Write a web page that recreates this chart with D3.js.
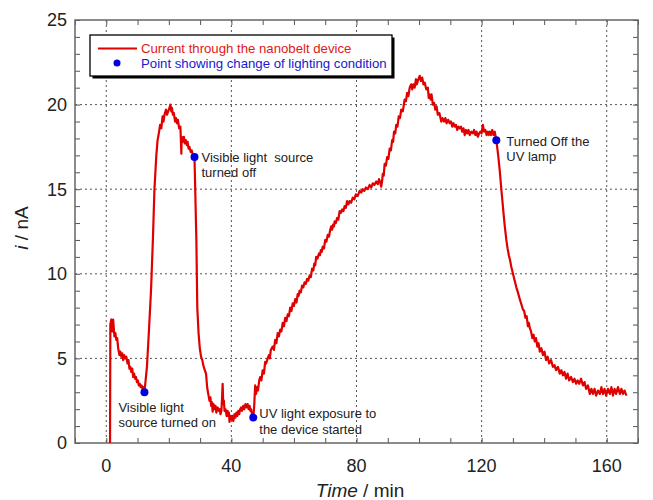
<!DOCTYPE html>
<html>
<head>
<meta charset="utf-8">
<script src="https://cdn.jsdelivr.net/npm/d3@7"></script>
<style>
	body { margin: 0; background: #fff; }
	svg { font-family: "Liberation Sans", Arial, sans-serif; }
</style>
</head>
<body>
<div id="wrapper"></div>
<script>
// 1. Data

const currentTrace = [
	[1.2, 0], [1.3, 7.0], [1.6, 7.3], [1.9, 6.6], [2.2, 7.3], [2.6, 6.3], [2.9, 6.5], [3.2, 6.1],
	[3.5, 6.2], [3.8, 5.6], [4.2, 5.2], [4.5, 5.4], [4.8, 5.1], [5.1, 5.3], [5.4, 4.9], [5.7, 5.2],
	[6.0, 5.0], [6.4, 5.1], [6.8, 4.7], [7.1, 4.9], [7.4, 4.4], [7.7, 4.5], [8.0, 4.2], [8.3, 4.4],
	[8.6, 3.9], [8.9, 4.1], [9.2, 3.8], [9.5, 3.9], [9.8, 3.6], [10.1, 3.7], [10.4, 3.4], [10.7, 3.5],
	[11.0, 3.3], [11.3, 3.4], [11.6, 3.2], [11.9, 3.3], [12.2, 3.0],
	[13.0, 4.5], [13.6, 6.5], [14.3, 9.0], [14.9, 12.0], [15.4, 15.0], [16.0, 17.0], [16.4, 17.9],
	[16.8, 18.3], [17.2, 18.8], [17.6, 18.6], [18.0, 19.3], [18.3, 19.0], [18.6, 19.4], [19.1, 19.7],
	[19.4, 19.4], [19.8, 19.6], [20.2, 19.8], [20.5, 20.0], [20.8, 19.6], [21.0, 19.8], [21.3, 19.4],
	[21.6, 19.5], [22.0, 19.0], [22.3, 19.2], [22.6, 18.9], [22.9, 19.1], [23.3, 18.6], [23.7, 18.7],
	[24.0, 17.1], [24.1, 18.1], [24.4, 17.8], [24.8, 18.1], [25.1, 17.7], [25.4, 17.9], [25.8, 17.6],
	[26.0, 17.8], [26.3, 17.4], [26.6, 17.5], [27.0, 17.2], [27.3, 17.3], [27.7, 17.0], [28.2, 16.9],
	[28.5, 14.5], [28.8, 12.0], [29.1, 8.0], [29.5, 6.5], [29.9, 5.6], [30.3, 5.1], [30.7, 4.9],
	[31.0, 4.6], [31.5, 4.3], [31.9, 4.1], [32.2, 3.4], [32.4, 3.1], [32.7, 2.8], [33.0, 2.5],
	[33.3, 2.7], [33.5, 2.2], [33.8, 2.4], [34.0, 1.85], [34.3, 2.3], [34.6, 2.0], [34.9, 2.2],
	[35.2, 1.8], [35.6, 2.1], [36.0, 1.9], [36.3, 2.0], [36.5, 1.7], [36.8, 1.9], [37.0, 2.6],
	[37.2, 3.5], [37.4, 2.3], [37.6, 2.5], [37.8, 1.9], [38.1, 2.0], [38.5, 1.6], [38.8, 1.9],
	[39.0, 1.6], [39.2, 1.8], [39.4, 1.25], [39.7, 1.6], [40.0, 1.4], [40.3, 1.6], [40.6, 1.3],
	[41.0, 1.7], [41.3, 1.5], [41.6, 1.8], [41.9, 1.6], [42.2, 1.9], [42.5, 1.7], [42.8, 2.0],
	[43.1, 2.1], [43.4, 1.9], [43.8, 2.2], [44.1, 2.0], [44.5, 2.3], [44.8, 2.1], [45.2, 2.3],
	[45.5, 2.0], [45.8, 2.2], [46.1, 1.9], [46.3, 2.0], [46.6, 1.7], [47.0, 1.5],
	[47.3, 2.2], [47.6, 3.4], [47.9, 2.9], [48.2, 3.3], [48.5, 3.1], [48.9, 3.7], [49.2, 3.9],
	[49.6, 3.7], [50.0, 4.3], [50.4, 4.1], [50.8, 4.8], [51.1, 4.7], [51.6, 5.0], [52.0, 5.2],
	[52.3, 5.0], [52.6, 5.5], [53.2, 5.7], [53.6, 5.5], [54.0, 6.1], [54.4, 5.9], [54.8, 6.5],
	[55.2, 6.3], [55.6, 6.7], [56.0, 6.6], [56.4, 7.1], [56.8, 6.9], [57.2, 7.4], [57.6, 7.2],
	[58.0, 7.6], [58.4, 7.5], [58.8, 8.0], [59.2, 7.8], [59.6, 8.25], [60.0, 8.1], [60.4, 8.5],
	[60.8, 8.3], [61.2, 8.8], [61.5, 8.7], [61.8, 9.0], [62.2, 8.9], [62.6, 9.3], [63.0, 9.2],
	[63.4, 9.5], [63.8, 9.4], [64.2, 9.7], [64.6, 9.6], [65.0, 9.9], [65.4, 9.8], [65.8, 10.3],
	[66.2, 10.2], [66.5, 10.6], [66.8, 10.5], [67.1, 11.0], [67.5, 10.9], [68.0, 11.2], [68.3, 11.1],
	[68.6, 11.4], [68.9, 11.3], [69.2, 11.6], [69.6, 11.5], [70.0, 12.0], [70.4, 11.9], [70.8, 12.3],
	[71.2, 12.2], [71.6, 12.6], [71.9, 12.8], [72.2, 12.6], [72.5, 12.9], [72.8, 12.8], [73.0, 13.1],
	[73.4, 13.0], [73.8, 13.3], [74.2, 13.2], [74.6, 13.7], [75.0, 13.6], [75.4, 13.8], [75.8, 13.7],
	[76.2, 14.0], [76.6, 13.9], [77.0, 14.3], [77.4, 14.1], [77.8, 14.3], [78.3, 14.2], [78.8, 14.5],
	[79.3, 14.4], [79.8, 14.7], [80.4, 14.6], [81.0, 14.9], [81.5, 14.8], [82.0, 15.0], [82.5, 14.9],
	[83.0, 15.1], [83.6, 15.0], [84.2, 15.25], [84.7, 15.1], [85.2, 15.35], [85.7, 15.25], [86.3, 15.45],
	[86.8, 15.3], [87.2, 15.6], [87.6, 15.4], [87.9, 15.15], [88.2, 15.5], [88.4, 15.9], [88.7, 15.8],
	[89.0, 16.5], [89.4, 16.4], [89.8, 16.9], [90.2, 16.8], [90.6, 17.4], [91.0, 17.3], [91.4, 17.9],
	[91.7, 17.8], [92.0, 18.4], [92.4, 18.3], [92.7, 18.8], [93.1, 18.7], [93.5, 19.3], [93.9, 19.2],
	[94.3, 19.7], [94.8, 19.6], [95.4, 20.3], [95.8, 20.2], [96.2, 20.7], [96.6, 20.5], [97.0, 21.0],
	[97.5, 21.2], [97.8, 20.9], [98.2, 21.2], [98.6, 21.0], [99.0, 21.5], [99.3, 21.2], [99.6, 21.4],
	[100.2, 21.7], [100.6, 21.4], [101.0, 21.6], [101.4, 21.2], [101.8, 21.3], [102.3, 20.9],
	[102.8, 21.0], [103.1, 20.4], [103.4, 20.6], [103.7, 20.3], [104.0, 20.6], [104.4, 20.0],
	[104.8, 20.1], [105.2, 19.7], [105.6, 19.9], [106.0, 19.4], [106.5, 19.5], [107.1, 19.0],
	[107.5, 19.2], [108.0, 19.0], [108.4, 19.2], [108.8, 18.9], [109.3, 19.1], [109.8, 18.9],
	[110.2, 19.0], [110.6, 18.7], [111.0, 18.9], [111.4, 18.7], [111.8, 18.8], [112.2, 18.5],
	[112.6, 18.7], [113.0, 18.6], [113.4, 18.7], [113.8, 18.4], [114.2, 18.6], [114.6, 18.2],
	[115.0, 18.5], [115.4, 18.3], [115.8, 18.5], [116.2, 18.2], [116.7, 18.4], [117.2, 18.3],
	[117.6, 18.5], [118.0, 18.2], [118.4, 18.4], [118.8, 18.1], [119.2, 18.3], [119.6, 18.4],
	[120.0, 18.3], [120.4, 18.8], [120.8, 18.4], [121.2, 18.5], [121.6, 18.2], [122.0, 18.4],
	[122.3, 18.2], [122.6, 18.4], [123.0, 18.2], [123.4, 18.5], [123.8, 18.2], [124.2, 18.4], [124.7, 17.9],
	[125.3, 17.0], [125.8, 16.1], [126.3, 15.0], [126.8, 14.0], [127.3, 13.0], [127.9, 12.0],
	[128.3, 11.5], [128.7, 11.1], [129.1, 10.8], [129.5, 10.4], [129.9, 10.1], [130.3, 9.8],
	[130.7, 9.5], [131.1, 9.2], [131.6, 8.9], [132.2, 8.5], [132.7, 8.2], [133.2, 7.9], [133.6, 7.8],
	[134.0, 7.4], [134.4, 7.5], [134.8, 6.9], [135.1, 7.1], [135.4, 6.8], [135.8, 6.6], [136.2, 6.2],
	[136.6, 6.4], [137.0, 6.0], [137.4, 6.2], [137.8, 5.7], [138.2, 5.9], [138.6, 5.4], [139.1, 5.6],
	[139.6, 5.2], [140.1, 5.4], [140.6, 4.9], [141.1, 5.1], [141.6, 4.7], [142.2, 4.9], [142.8, 4.5],
	[143.3, 4.6], [143.8, 4.3], [144.4, 4.5], [145.0, 4.1], [145.5, 4.3], [146.0, 4.0], [146.5, 4.2],
	[147.0, 3.8], [147.5, 4.1], [148.0, 3.7], [148.6, 3.9], [149.2, 3.6], [149.7, 3.8], [150.2, 3.5],
	[150.7, 3.7], [151.2, 3.5], [151.8, 3.8], [152.4, 3.4], [152.9, 3.6], [153.4, 3.2], [154.0, 3.4],
	[154.6, 2.9], [155.1, 3.2], [155.6, 2.9], [156.1, 3.2], [156.6, 2.8], [157.2, 3.1], [157.8, 2.9],
	[158.3, 3.3], [158.8, 2.9], [159.3, 3.2], [159.8, 2.8], [160.4, 3.2], [161.0, 2.9], [161.5, 3.3],
	[162.0, 2.8], [162.5, 3.2], [163.0, 2.9], [163.6, 3.3], [164.2, 2.9], [164.7, 3.2], [165.2, 2.9],
	[165.7, 3.1], [166.3, 2.8]
];

const eventTimes = [12.2, 28.2, 47.0, 124.7];
const eventCurrents = [3.0, 16.9, 1.5, 17.9];
const eventLabels = [
	["Visible light", "source turned on"],
	["Visible light  source", "turned off"],
	["UV light exposure to", "the device started"],
	["Turned Off the", "UV lamp"]
];

const xTicks = [0, 40, 80, 120, 160];
const yTicks = [0, 5, 10, 15, 20, 25];
const legendLabels = ["Current through the nanobelt device", "Point showing change of lighting condition"];

// 2. Dimensions

const width = 653;
const height = 500;
const margin = { top: 20, right: 15, bottom: 57, left: 75 };
const innerW = width - margin.left - margin.right;
const innerH = height - margin.top - margin.bottom;

const svg = d3.select("#wrapper")
	.append("svg")
	.attr("width", width)
	.attr("height", height);

const plot = svg.append("g")
	.attr("transform", `translate(${margin.left},${margin.top})`);

// 3. Scales

const x = d3.scaleLinear().domain([-10, 170]).range([0, innerW]);
const y = d3.scaleLinear().domain([0, 25]).range([innerH, 0]);

// 4. Grid

plot.selectAll(".vgrid")
	.data(xTicks)
	.enter()
	.append("line")
	.attr("x1", d => x(d)).attr("x2", d => x(d))
	.attr("y1", 0).attr("y2", innerH)
	.attr("stroke", "#555")
	.attr("stroke-width", 1)
	.attr("stroke-dasharray", "2,3");

plot.selectAll(".hgrid")
	.data(yTicks.filter(d => d > 0 && d < 25))
	.enter()
	.append("line")
	.attr("x1", 0).attr("x2", innerW)
	.attr("y1", d => y(d)).attr("y2", d => y(d))
	.attr("stroke", "#555")
	.attr("stroke-width", 1)
	.attr("stroke-dasharray", "2,3");

// 5. Axes: inward ticks on all four sides

const xMinor = d3.range(-10, 171, 10);
const yMinor = d3.range(0, 26, 1);

function styleAxis(g) {
	g.select(".domain").remove();
	g.selectAll(".tick line").attr("stroke", "#555");
	g.selectAll("text").remove();
}

plot.append("g").attr("transform", `translate(0,${innerH})`)
	.call(d3.axisBottom(x).tickValues(xMinor).tickSize(-5)).call(styleAxis);
plot.append("g")
	.call(d3.axisTop(x).tickValues(xMinor).tickSize(-5)).call(styleAxis);
plot.append("g")
	.call(d3.axisLeft(y).tickValues(yMinor).tickSize(-5)).call(styleAxis);
plot.append("g").attr("transform", `translate(${innerW},0)`)
	.call(d3.axisRight(y).tickValues(yMinor).tickSize(-5)).call(styleAxis);

plot.append("rect")
	.attr("width", innerW).attr("height", innerH)
	.attr("fill", "none")
	.attr("stroke", "#666")
	.attr("stroke-width", 1.5);

// tick labels
plot.selectAll(".xlab")
	.data(xTicks)
	.enter()
	.append("text")
	.attr("x", d => x(d))
	.attr("y", innerH + 29)
	.attr("text-anchor", "middle")
	.attr("font-size", 18)
	.attr("fill", "#222")
	.text(d => d);

plot.selectAll(".ylab")
	.data(yTicks)
	.enter()
	.append("text")
	.attr("x", -8)
	.attr("y", d => y(d))
	.attr("dy", "0.35em")
	.attr("text-anchor", "end")
	.attr("font-size", 18)
	.attr("fill", "#222")
	.text(d => d);

// axis titles
const xTitle = svg.append("text")
	.attr("x", 360)
	.attr("y", 497)
	.attr("text-anchor", "middle")
	.attr("font-size", 19)
	.attr("fill", "#222");
xTitle.append("tspan").attr("font-style", "italic").text("Time");
xTitle.append("tspan").text(" / min");

const yTitle = svg.append("text")
	.attr("transform", "translate(28,228) rotate(-90)")
	.attr("text-anchor", "middle")
	.attr("font-size", 19)
	.attr("fill", "#222");
yTitle.append("tspan").attr("font-style", "italic").text("i");
yTitle.append("tspan").text(" / nA");

// 6. Data

const line = d3.line()
	.x(d => x(d[0]))
	.y(d => y(d[1]));

plot.append("path")
	.datum(currentTrace)
	.attr("d", line)
	.attr("fill", "none")
	.attr("stroke", "#e00000")
	.attr("stroke-width", 2.2)
	.attr("stroke-linejoin", "round");

plot.selectAll(".event")
	.data(eventTimes)
	.enter()
	.append("circle")
	.attr("cx", d => x(d))
	.attr("cy", (d, i) => y(eventCurrents[i]))
	.attr("r", 4)
	.attr("fill", "#0000e0");

// annotation text positions, relative to each point
const labelOffsets = [[-26, 15], [7, 0], [6, -4], [10, 1]];

eventLabels.forEach((lines, i) => {
	const px = x(eventTimes[i]) + labelOffsets[i][0];
	const py = y(eventCurrents[i]) + labelOffsets[i][1];
	lines.forEach((t, j) => {
		plot.append("text")
			.attr("x", px)
			.attr("y", py + j * 15.5)
			.attr("dy", "0.35em")
			.attr("font-size", 13)
			.attr("fill", "#222")
			.style("white-space", "pre")
			.text(t);
	});
});

// 7. Legend

const legend = svg.append("g").attr("transform", "translate(90,35)");

legend.append("rect")
	.attr("x", 2.5).attr("y", 2.5)
	.attr("width", 302).attr("height", 41)
	.attr("fill", "#000");
legend.append("rect")
	.attr("width", 302).attr("height", 41)
	.attr("fill", "#fff")
	.attr("stroke", "#000")
	.attr("stroke-width", 1.3);

legend.append("line")
	.attr("x1", 8).attr("x2", 47)
	.attr("y1", 13.5).attr("y2", 13.5)
	.attr("stroke", "#e00000")
	.attr("stroke-width", 2);
legend.append("circle")
	.attr("cx", 27).attr("cy", 28)
	.attr("r", 3.5)
	.attr("fill", "#0000e0");

legend.selectAll(".ltext")
	.data(legendLabels)
	.enter()
	.append("text")
	.attr("x", 51)
	.attr("y", (d, i) => 13.5 + i * 14.5)
	.attr("dy", "0.35em")
	.attr("font-size", 13.2)
	.attr("fill", (d, i) => i === 0 ? "#e01818" : "#1818d0")
	.text(d => d);
</script>
</body>
</html>
